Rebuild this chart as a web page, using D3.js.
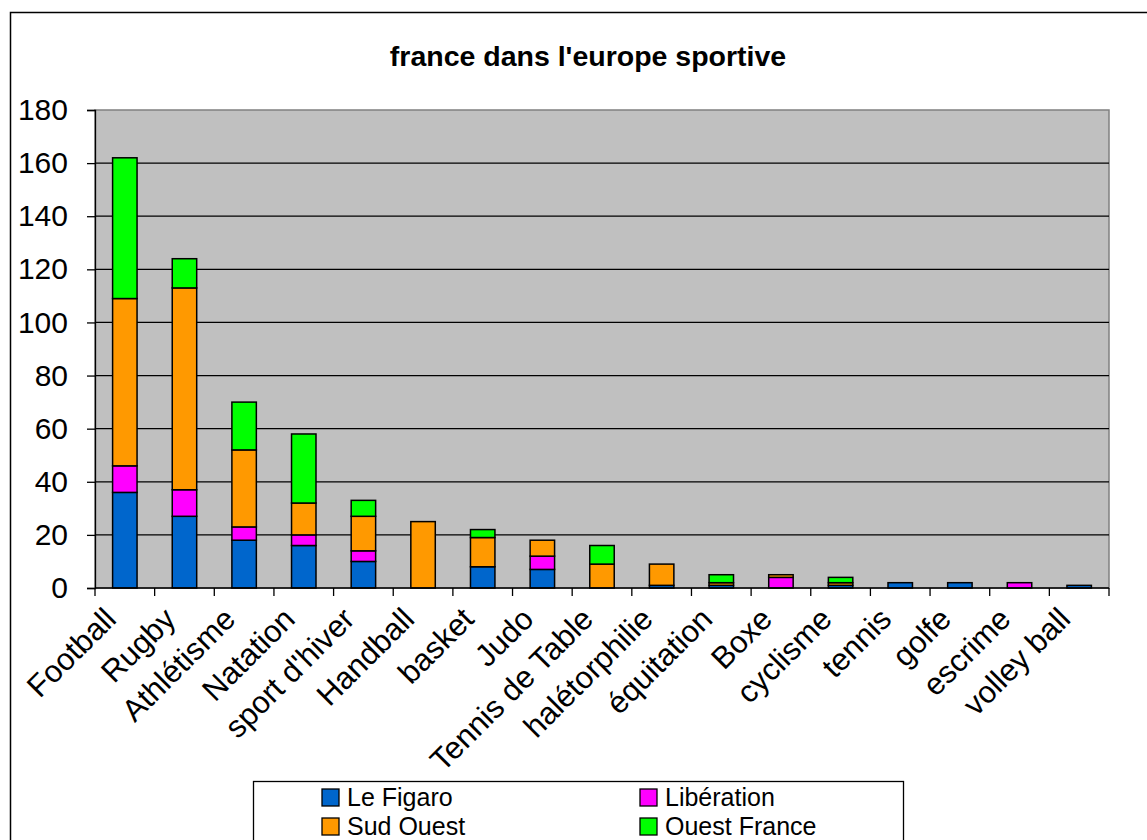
<!DOCTYPE html>
<html>
<head>
<meta charset="utf-8">
<script src="https://cdn.jsdelivr.net/npm/d3@7"></script>
<style>
    body { margin: 0; background: #fff; }
    svg { display: block; font-family: "Liberation Sans", Arial, sans-serif; }
</style>
</head>
<body>
<div id="chart"></div>
<script>
// sports, in the order of the x axis
const sports = ["Football", "Rugby", "Athlétisme", "Natation", "sport d'hiver", "Handball",
    "basket", "Judo", "Tennis de Table", "halétorphilie", "équitation", "Boxe",
    "cyclisme", "tennis", "golfe", "escrime", "volley ball"];

const seriesNames = ["Le Figaro", "Libération", "Sud Ouest", "Ouest France"];
const seriesColors = ["#0066CC", "#FF00FF", "#FF9900", "#00FF00"];

const leFigaro    = [36, 27, 18, 16, 10, 0, 8, 7, 0, 1, 1, 0, 1, 2, 2, 0, 1];
const liberation  = [10, 10, 5, 4, 4, 0, 0, 5, 0, 0, 0, 4, 0, 0, 0, 2, 0];
const sudOuest    = [63, 76, 29, 12, 13, 25, 11, 6, 9, 8, 1, 1, 1, 0, 0, 0, 0];
const ouestFrance = [53, 11, 18, 26, 6, 0, 3, 0, 7, 0, 3, 0, 2, 0, 0, 0, 0];

const yTicks = [0, 20, 40, 60, 80, 100, 120, 140, 160, 180];

const width = 1147, height = 840;
const margin = { top: 110, right: 38, bottom: 252, left: 95 };

const svg = d3.select('#chart').append('svg')
    .attr('width', width)
    .attr('height', height);

// outer chart frame
svg.append('rect')
    .attr('x', 10.5).attr('y', 12.5)
    .attr('width', width).attr('height', height)
    .attr('fill', 'none')
    .attr('stroke', '#000')
    .attr('stroke-width', 1.5);

svg.append('text')
    .attr('x', 588).attr('y', 66)
    .attr('text-anchor', 'middle')
    .style('font-size', '28.5px')
    .style('font-weight', 'bold')
    .text("france dans l'europe sportive");

const table = sports.map((s, i) => ({
    sport: s,
    "Le Figaro": leFigaro[i],
    "Libération": liberation[i],
    "Sud Ouest": sudOuest[i],
    "Ouest France": ouestFrance[i]
}));

const stacked = d3.stack().keys(seriesNames)(table);

const x = d3.scaleBand()
    .domain(sports)
    .range([margin.left, width - margin.right])
    .paddingInner(0.59)
    .paddingOuter(0.295);

const y = d3.scaleLinear()
    .domain([0, 180])
    .range([height - margin.bottom, margin.top]);

const color = d3.scaleOrdinal().domain(seriesNames).range(seriesColors);

// plot area
svg.append('rect')
    .attr('x', margin.left).attr('y', margin.top)
    .attr('width', width - margin.right - margin.left)
    .attr('height', y(0) - margin.top)
    .attr('fill', '#C0C0C0')
    .attr('stroke', '#808080')
    .attr('stroke-width', 1.5);

// grid lines
svg.append('g')
    .selectAll('line')
    .data(yTicks.filter(d => d > 0 && d < 180))
    .join('line')
    .attr('x1', margin.left).attr('x2', width - margin.right)
    .attr('y1', d => y(d)).attr('y2', d => y(d))
    .attr('stroke', '#000')
    .attr('stroke-width', 1.3);

// bars
svg.append('g')
    .selectAll('g')
    .data(stacked)
    .join('g')
    .attr('fill', d => color(d.key))
    .selectAll('rect')
    .data(d => d.filter(p => p[1] - p[0] > 0))
    .join('rect')
    .attr('x', d => x(d.data.sport))
    .attr('y', d => y(d[1]))
    .attr('width', x.bandwidth())
    .attr('height', d => y(d[0]) - y(d[1]))
    .attr('stroke', '#000')
    .attr('stroke-width', 1.5);

// y axis
const yAxis = svg.append('g')
    .attr('transform', `translate(${margin.left},0)`)
    .call(d3.axisLeft(y).tickValues(yTicks).tickSize(8).tickPadding(19));
yAxis.selectAll('text').style('font-size', '30px').attr('fill', '#000');
yAxis.selectAll('line, path').attr('stroke', '#000').attr('stroke-width', 1.3);

// x axis, ticks between categories
const step = x.step();
const xEdges = d3.range(sports.length + 1).map(i => margin.left + i * step);
const xAxisG = svg.append('g');
xAxisG.append('line')
    .attr('x1', margin.left).attr('x2', width - margin.right)
    .attr('y1', y(0)).attr('y2', y(0))
    .attr('stroke', '#000').attr('stroke-width', 1.5);
xAxisG.selectAll('.tick')
    .data(xEdges)
    .join('line')
    .attr('class', 'tick')
    .attr('x1', d => d).attr('x2', d => d)
    .attr('y1', y(0)).attr('y2', y(0) + 8)
    .attr('stroke', '#000').attr('stroke-width', 1.3);

xAxisG.selectAll('text')
    .data(sports)
    .join('text')
    .attr('text-anchor', 'end')
    .attr('transform', d => `translate(${x(d) + x.bandwidth() / 2 - 7},${y(0) + 33}) rotate(-45)`)
    .style('font-size', '31px')
    .text(d => d);

// legend
const legend = svg.append('g');
legend.append('rect')
    .attr('x', 253.5).attr('y', 781.5)
    .attr('width', 650).attr('height', 80)
    .attr('fill', '#fff')
    .attr('stroke', '#000')
    .attr('stroke-width', 1.3);

const legendPos = [[322, 789], [640, 789], [322, 818], [640, 818]];
const items = legend.selectAll('g.item')
    .data(seriesNames)
    .join('g')
    .attr('class', 'item')
    .attr('transform', (d, i) => `translate(${legendPos[i][0]},${legendPos[i][1]})`);
items.append('rect')
    .attr('width', 17).attr('height', 17)
    .attr('fill', d => color(d))
    .attr('stroke', '#000')
    .attr('stroke-width', 1.3);
items.append('text')
    .attr('x', 25).attr('y', 17)
    .style('font-size', '25px')
    .text(d => d);
</script>
</body>
</html>
